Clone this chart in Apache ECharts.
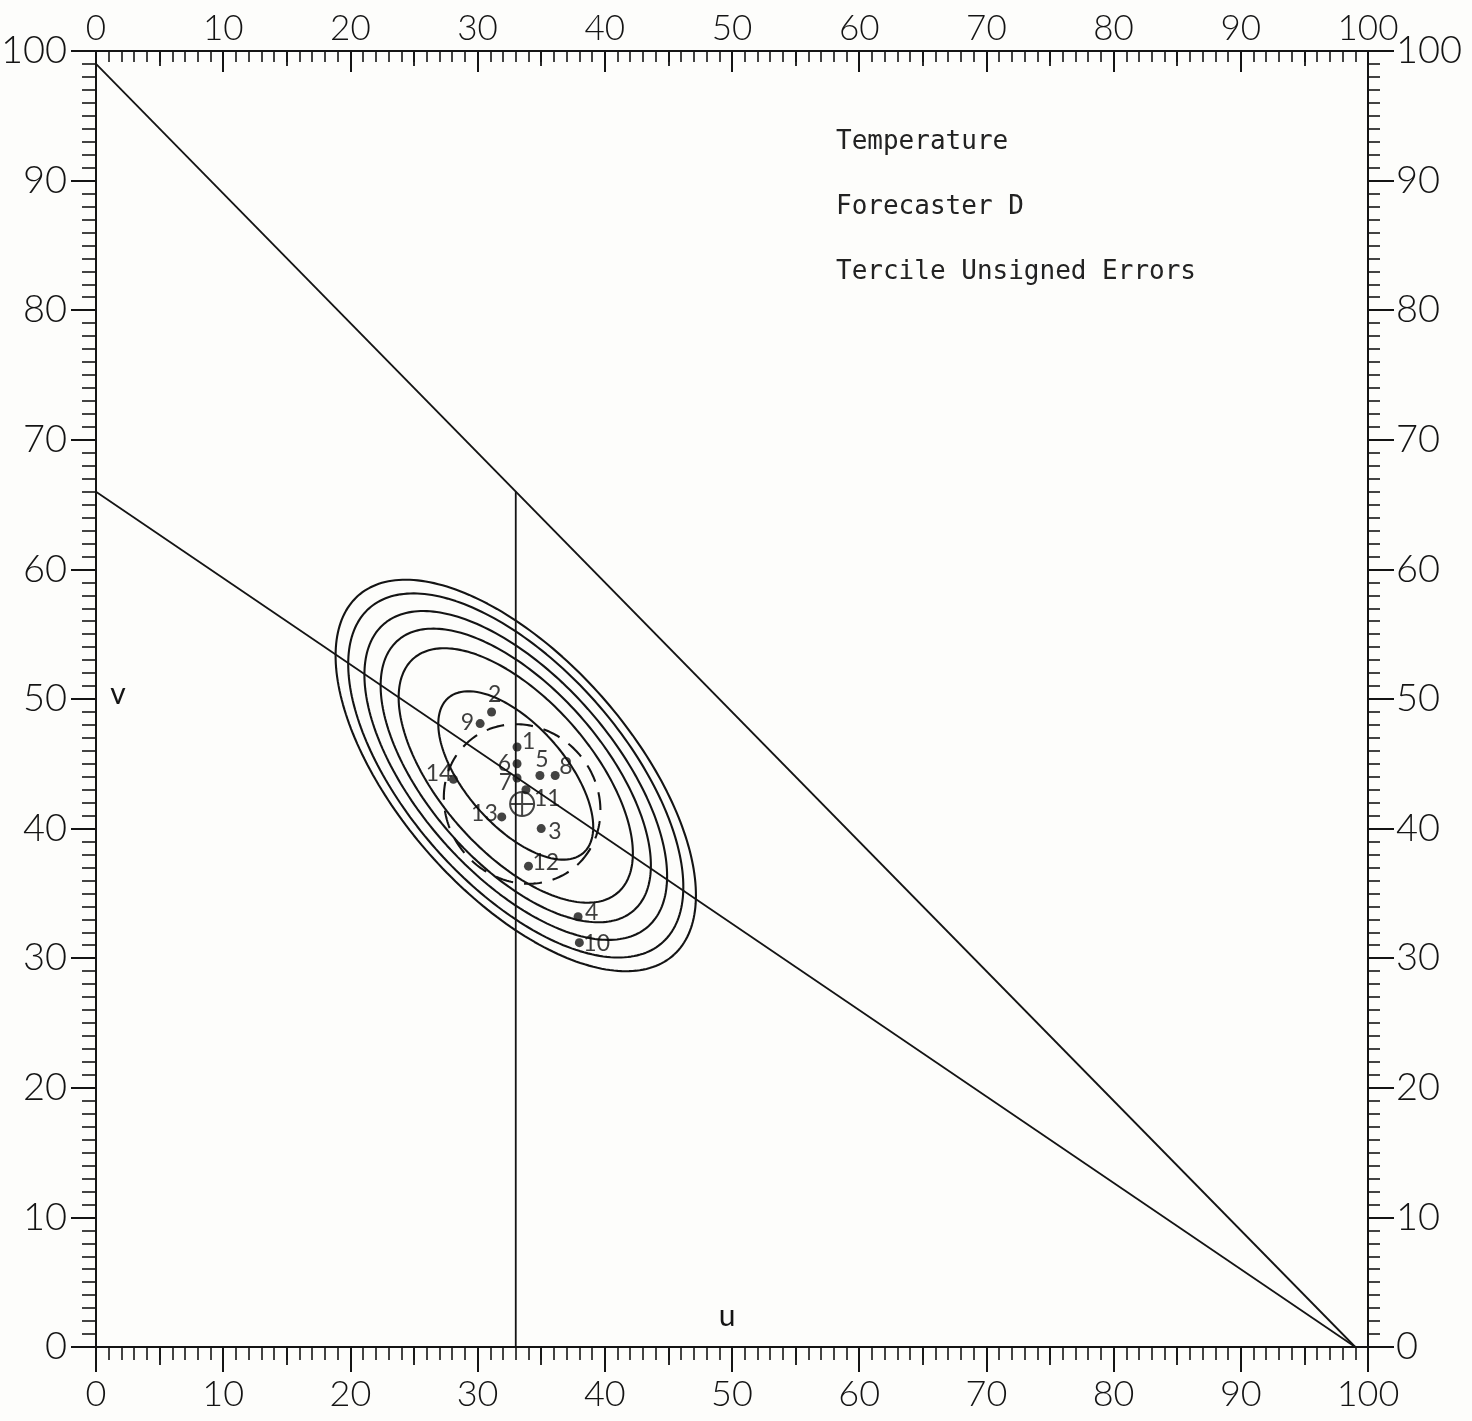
<!DOCTYPE html>
<html>
<head>
<meta charset="utf-8">
<script src="https://cdn.jsdelivr.net/npm/echarts@6/dist/echarts.min.js"></script>
<style>
  html, body { margin: 0; padding: 0; background: #fdfdfb; }
  #chart { width: 1472px; height: 1421px; }
</style>
</head>
<body>
<div id="chart"></div>
<script>
// ---- values ----
// Axis extent and tick steps (both axes, percent)
const axisMin = 0;
const axisMax = 100;
const majorStep = 10;
const mediumStep = 5;

// Individual forecast points
const pointIds = [1, 2, 3, 4, 5, 6, 7, 8, 9, 10, 11, 12, 13, 14];
const pointU = [33.1, 31.1, 35.0, 37.9, 34.9, 33.1, 33.1, 36.1, 30.2, 38.0, 33.8, 34.0, 31.9, 28.1];
const pointV = [46.3, 49.0, 40.0, 33.2, 44.1, 45.0, 43.9, 44.1, 48.1, 31.2, 43.0, 37.1, 40.9, 43.8];

// Mean point (circled cross)
const meanPoint = [33.5, 41.9];

// Reference lines
const upperDiagonal = [[0, 99], [99, 0]];
const lowerDiagonal = [[0, 66], [99, 0]];
const tercileLine = [[33, 0], [33, 66]];

// Probability contours: shared centre, outer semi-axes, orientation, relative sizes
const contourCenter = [33.0, 44.1];
const contourSemiAxes = [18.6, 9.1];
const contourAngle = -48;
const contourScales = [1.0, 0.93, 0.84, 0.75, 0.65, 0.43];

// Dashed ellipse about the mean point
const meanEllipseSemiAxes = [6.4, 5.9];
const meanEllipseAngle = -45;

// Annotation text
const titleLines = ['Temperature', 'Forecaster D', 'Tercile Unsigned Errors'];
const uAxisName = 'u';
const vAxisName = 'v';

// ---- presentation ----
const INK = '#141414';
const AXIS_FONT = 'Lato';

// where each point's number sits relative to its dot: [align, dx, dy]
const labelPlacement = {
  1: ['left', 5, -5], 2: ['center', 3, -17], 3: ['left', 7, 3], 4: ['left', 7, -4],
  5: ['center', 2, -16], 6: ['right', -6, 0], 7: ['right', -5, 5], 8: ['left', 4, -9],
  9: ['right', -6, -1], 10: ['left', 4, 1], 11: ['left', 8, 9], 12: ['left', 4, -4],
  13: ['right', -4, -3], 14: ['right', -1, -6]
};

// outline of a rotated ellipse in data units
function ellipseOutline(center, a, b, angleDeg, n) {
  const th = angleDeg * Math.PI / 180;
  const pts = [];
  for (let i = 0; i <= n; i++) {
    const t = 2 * Math.PI * i / n;
    const x = a * Math.cos(t), y = b * Math.sin(t);
    pts.push([center[0] + x * Math.cos(th) - y * Math.sin(th),
              center[1] + x * Math.sin(th) + y * Math.cos(th)]);
  }
  return pts;
}

function lineSeries(data, extra) {
  return Object.assign({
    type: 'line', xAxisIndex: 0, yAxisIndex: 0, data: data,
    symbol: 'none', showSymbol: false, smooth: false, silent: true,
    lineStyle: { color: INK, width: 1.8 }, z: 2
  }, extra || {});
}

const series = [];
series.push(lineSeries(upperDiagonal));
series.push(lineSeries(lowerDiagonal));
series.push(lineSeries(tercileLine));

contourScales.forEach(function (k) {
  series.push(lineSeries(
    ellipseOutline(contourCenter, contourSemiAxes[0] * k, contourSemiAxes[1] * k, contourAngle, 240),
    { lineStyle: { color: INK, width: 2.1 } }
  ));
});

series.push(lineSeries(
  ellipseOutline(meanPoint, meanEllipseSemiAxes[0], meanEllipseSemiAxes[1], meanEllipseAngle, 240),
  { lineStyle: { color: INK, width: 2.1, type: [18, 11] } }
));

series.push({
  type: 'scatter', xAxisIndex: 0, yAxisIndex: 0, z: 5, silent: true,
  symbol: 'circle', symbolSize: 9,
  itemStyle: { color: INK },
  data: pointIds.map(function (id, i) {
    const p = labelPlacement[id];
    return {
      value: [pointU[i], pointV[i]],
      label: {
        show: true, formatter: String(id), position: 'inside',
        align: p[0], verticalAlign: 'middle', offset: [p[1], p[2]],
        fontSize: 23, fontFamily: AXIS_FONT, fontWeight: 'normal', color: '#0c0c0c'
      }
    };
  })
});

series.push({
  type: 'scatter', xAxisIndex: 0, yAxisIndex: 0, z: 6, silent: true,
  symbol: 'path://M12,1 A11,11 0 1,1 11.99,1 Z M12,1 L12,23 M1,12 L23,12',
  symbolSize: 24,
  itemStyle: { color: 'rgba(0,0,0,0)', borderColor: INK, borderWidth: 2 },
  data: [meanPoint]
});

function valueAxis(opts) {
  return Object.assign({
    type: 'value', min: axisMin, max: axisMax, interval: majorStep,
    splitLine: { show: false },
    axisLine: { show: true, onZero: false, lineStyle: { color: INK, width: 2 } },
    axisTick: { show: true, length: 25, lineStyle: { color: INK, width: 2 } },
    minorTick: { show: true, splitNumber: 10, length: 13, lineStyle: { color: INK, width: 1.6 } },
    minorSplitLine: { show: false },
    axisLabel: { show: true, fontFamily: AXIS_FONT, fontWeight: 300, fontSize: 36, color: INK, margin: 29 }
  }, opts);
}

function tickOnlyAxis(opts) {
  return Object.assign({
    type: 'value', min: axisMin, max: axisMax, interval: mediumStep,
    splitLine: { show: false },
    axisLine: { show: false, onZero: false },
    axisLabel: { show: false },
    minorTick: { show: false },
    axisTick: { show: true, length: 18, lineStyle: { color: INK, width: 1.8 } }
  }, opts);
}

const gridBox = { left: 96, right: 104, top: 51, bottom: 74, outerBoundsMode: 'none', containLabel: false };

const option = {
  backgroundColor: '#fdfdfb',
  animation: false,
  grid: [Object.assign({}, gridBox), Object.assign({}, gridBox)],
  xAxis: [
    valueAxis({ gridIndex: 0, position: 'bottom' }),
    valueAxis({
      gridIndex: 0, position: 'top',
      axisTick: { show: true, inside: true, length: 21, lineStyle: { color: INK, width: 2 } },
      minorTick: { show: true, splitNumber: 10, length: 11, lineStyle: { color: INK, width: 1.6 } },
      axisLabel: { show: true, fontFamily: AXIS_FONT, fontWeight: 300, fontSize: 35, color: INK, margin: 5 }
    }),
    tickOnlyAxis({ gridIndex: 1, position: 'bottom' }),
    tickOnlyAxis({ gridIndex: 1, position: 'top', axisTick: { show: true, inside: true, length: 15, lineStyle: { color: INK, width: 1.8 } } })
  ],
  yAxis: [
    valueAxis({
      gridIndex: 0, position: 'left',
      minorTick: { show: true, splitNumber: 10, length: 14, lineStyle: { color: INK, width: 1.6 } },
      axisLabel: { show: true, fontFamily: AXIS_FONT, fontWeight: 300, fontSize: 38, color: INK, margin: 29 }
    }),
    valueAxis({
      gridIndex: 0, position: 'right',
      axisTick: { show: true, length: 26, lineStyle: { color: INK, width: 2 } },
      minorTick: { show: true, splitNumber: 10, length: 12, lineStyle: { color: INK, width: 1.6 } },
      axisLabel: { show: true, fontFamily: AXIS_FONT, fontWeight: 300, fontSize: 38, color: INK, margin: 28 }
    }),
    { type: 'value', gridIndex: 1, min: axisMin, max: axisMax, show: false },
    { type: 'value', gridIndex: 1, min: axisMin, max: axisMax, show: false, position: 'right' }
  ],
  graphic: [
    {
      type: 'text', left: 836, top: 110, silent: true,
      style: { text: titleLines.join('\n'), font: '26px "DejaVu Sans Mono"', lineHeight: 65, fill: '#222' }
    },
    {
      type: 'text', x: 118, y: 694, silent: true,
      style: { text: vAxisName, font: '30px Lato', fill: INK, align: 'center', verticalAlign: 'middle' }
    },
    {
      type: 'text', x: 727, y: 1316, silent: true,
      style: { text: uAxisName, font: '30px Lato', fill: INK, align: 'center', verticalAlign: 'middle' }
    }
  ],
  series: series
};

const chart = echarts.init(document.getElementById('chart'), null, { renderer: 'canvas' });
chart.setOption(option);
</script>
</body>
</html>
